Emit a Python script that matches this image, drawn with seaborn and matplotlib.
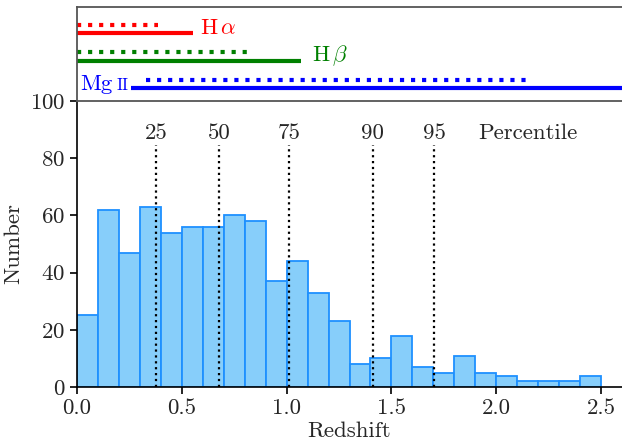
import numpy as np
import matplotlib
matplotlib.use("Agg")
import matplotlib.pyplot as plt
import seaborn as sns

# histogram of redshifts, bins of 0.1
bin_edges = [0.0, 0.1, 0.2, 0.3, 0.4, 0.5, 0.6, 0.7, 0.8, 0.9, 1.0, 1.1, 1.2,
             1.3, 1.4, 1.5, 1.6, 1.7, 1.8, 1.9, 2.0, 2.1, 2.2, 2.3, 2.4, 2.5]
counts = [25, 62, 47, 63, 54, 56, 56, 60, 58, 37, 44, 33, 23,
          8, 10, 18, 7, 5, 11, 5, 4, 2, 2, 2, 4]

# percentiles of redshift
pct_labels = ["25", "50", "75", "90", "95"]
pct_values = [0.377, 0.679, 1.011, 1.41, 1.703]

# redshift coverage of the lines (solid / dotted)
lines = ["Ha", "Hb", "MgII"]
line_colors = ["red", "green", "blue"]
solid_range = [(0.0, 0.553), (0.0, 1.067), (0.256, 2.7)]
dotted_range = [(0.0, 0.385), (0.0, 0.825), (0.33, 2.155)]
solid_y = [0.72, 0.43, 0.135]
dotted_y = [0.81, 0.52, 0.225]

sns.set_style("ticks")
plt.rcParams["font.family"] = ["cmr10", "DejaVu Serif"]
plt.rcParams["mathtext.fontset"] = "cm"
plt.rcParams["axes.formatter.use_mathtext"] = True
plt.rcParams["axes.unicode_minus"] = False

fs = 16.5

fig = plt.figure(figsize=(6.22, 4.48), dpi=100)
ax = fig.add_axes([0.1238, 0.1362, 0.8762, 0.6384])
ax_top = fig.add_axes([0.1238, 0.7746, 0.8762, 0.2098], sharex=ax)

centers = [(bin_edges[i] + bin_edges[i + 1]) / 2 for i in range(len(counts))]
sns.histplot(x=centers, weights=counts, bins=bin_edges, ax=ax,
             color="#87CEFA", edgecolor="#1E90FF", linewidth=1.3, alpha=1.0)

for lab, v in zip(pct_labels, pct_values):
    ax.plot([v, v], [0, 84.6], color="black", ls=":", lw=1.6)
    ax.text(v, 85.3, lab, ha="center", va="bottom", fontsize=fs)
ax.text(2.15, 85.3, "Percentile", ha="center", va="bottom", fontsize=fs)

ax.set_xlim(0, 2.6)
ax.set_ylim(0, 100)
ax.set_xticks([0.0, 0.5, 1.0, 1.5, 2.0, 2.5])
ax.set_xticklabels(["0.0", "0.5", "1.0", "1.5", "2.0", "2.5"])
ax.set_yticks([0, 20, 40, 60, 80, 100])
ax.tick_params(labelsize=fs, direction="out", length=5, width=1.2, color="black")
ax.set_xlabel("Redshift", fontsize=fs, labelpad=2)
ax.set_ylabel("Number", fontsize=fs, labelpad=5)
for s in ["left", "bottom"]:
    ax.spines[s].set_color("black")
    ax.spines[s].set_linewidth(1.2)
ax.spines["top"].set_visible(False)
ax.spines["right"].set_visible(False)

# top panel: line coverage
for i in range(len(lines)):
    ax_top.plot(solid_range[i], [solid_y[i]] * 2, color=line_colors[i], lw=3,
                solid_capstyle="butt")
    ax_top.plot(dotted_range[i], [dotted_y[i]] * 2, color=line_colors[i], lw=3,
                ls=":")

ax_top.text(0.585, 0.77, r"H$\,\alpha$", color="red", fontsize=fs,
            ha="left", va="center")
ax_top.text(1.12, 0.48, r"H$\,\beta$", color="green", fontsize=fs,
            ha="left", va="center")
ax_top.text(0.015, 0.18, "Mg", color="blue", fontsize=fs, ha="left", va="center")
ax_top.text(0.19, 0.165, "II", color="blue", fontsize=12, ha="left", va="center")

ax_top.set_ylim(0, 1)
ax_top.set_xlim(0, 2.6)
ax_top.tick_params(left=False, bottom=False, labelleft=False, labelbottom=False)
for s in ax_top.spines.values():
    s.set_color("#555555")
    s.set_linewidth(1.3)
ax_top.spines["right"].set_visible(False)

fig.savefig("out.png", dpi=100)
